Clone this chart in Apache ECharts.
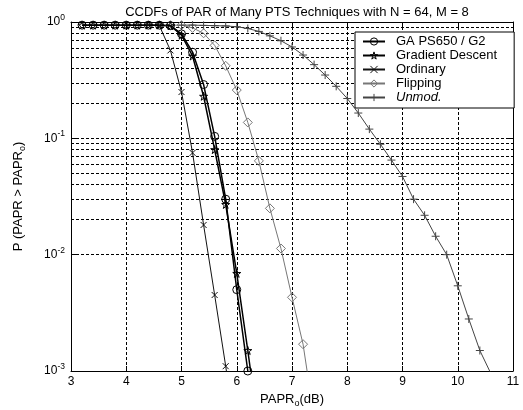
<!DOCTYPE html>
<html><head><meta charset="utf-8">
<script src="https://cdn.jsdelivr.net/npm/echarts@6/dist/echarts.min.js"></script>
<style>html,body{margin:0;padding:0;background:#fff}#c{width:523px;height:410px}</style>
</head><body><div id="c"></div>
<script>
const FONT = '"Liberation Sans", Arial, sans-serif';
const xTicks = [3,4,5,6,7,8,9,10,11];
const yTicks = [0.001, 0.01, 0.1, 1];
const minorGrid = [0.002,0.003,0.004,0.005,0.006,0.007,0.008,0.009,
                   0.02,0.03,0.04,0.05,0.06,0.07,0.08,0.09,
                   0.2,0.3,0.4,0.5,0.6,0.7,0.8,0.9];

const xGA = [3.2,3.4,3.6,3.8,4.0,4.2,4.4,4.6,4.8,5.0,5.2,5.4,5.6,5.8,6.0,6.2];
const yGA = [0.94,0.94,0.94,0.94,0.94,0.94,0.94,0.94,0.93,0.79,0.55,0.29,0.104,0.030,0.005,0.001];

const xGD = [3.2,3.4,3.6,3.8,4.0,4.2,4.4,4.6,4.8,5.0,5.2,5.4,5.6,5.8,6.0,6.2,6.4];
const yGD = [0.94,0.94,0.94,0.94,0.94,0.94,0.94,0.94,0.93,0.77,0.51,0.23,0.08,0.027,0.0069,0.0015,0.0003];

const xOrd = [4.4,4.6,4.8,5.0,5.2,5.4,5.6,5.8,6.0];
const yOrd = [0.94,0.93,0.57,0.25,0.075,0.018,0.0045,0.0011,0.00025];

const xFlip = [4.8,5.0,5.2,5.4,5.6,5.8,6.0,6.2,6.4,6.6,6.8,7.0,7.2,7.4];
const yFlip = [0.94,0.94,0.89,0.80,0.63,0.42,0.26,0.137,0.064,0.025,0.0113,0.0043,0.0017,0.0004];

const xUn = [5.0,5.2,5.4,5.6,5.8,6.0,6.2,6.4,6.6,6.8,7.0,7.2,7.4,7.6,7.8,8.0,8.2,8.4,8.6,8.8,9.0,9.2,9.4,9.6,9.8,10.0,10.2,10.4,10.6];
const yUn = [0.94,0.94,0.935,0.93,0.925,0.91,0.88,0.83,0.76,0.69,0.61,0.52,0.43,0.35,0.28,0.22,0.165,0.12,0.089,0.065,0.047,0.030,0.0218,0.0144,0.0100,0.0054,0.0028,0.0015,0.00095];

const names = ['GA PS650 / G2','Gradient Descent','Ordinary','Flipping','Unmod.'];

const pairs = (xs, ys) => xs.map((x,i)=>[x, ys[i]]);
const STAR = 'path://M50,0L61,35L98,35L68,57L79,91L50,70L21,91L32,57L2,35L39,35Z';
const XMARK = 'path://M0,0L10,10M10,0L0,10';
const PLUS = 'path://M5,0L5,10M0,5L10,5';
const HOLLOW = 'rgba(0,0,0,0)';

function mk(name, data, symbol, size, color, width){
  return {
    name, type:'line', data, symbol, symbolSize:size, showSymbol:true,
    clip:true, animation:false, z:2,
    lineStyle:{color, width},
    itemStyle:{color:HOLLOW, borderColor:color, borderWidth:1},
    emphasis:{disabled:true}
  };
}
const legendColors = ['#000','#000','#111','#777','#444'];

const chart = echarts.init(document.getElementById('c'), null, {renderer:'canvas'});
const supRich = {
  b:{fontSize:12, fontFamily:FONT, color:'#000'},
  s:{fontSize:8.5, fontFamily:FONT, color:'#000', padding:[0,0,9,0]}
};
const subRich = {sub:{fontSize:9, fontFamily:FONT, color:'#000', padding:[8,0,0,0]}};
chart.setOption({
  animation:false,
  backgroundColor:'#fff',
  title:{
    text:'CCDFs of PAR of Many PTS Techniques with N = 64, M = 8',
    left:292, textAlign:'center', top:1,
    textStyle:{fontSize:13, fontWeight:'normal', fontFamily:FONT, color:'#000'}
  },
  legend:{
    z:20,
    data:names.map((n,i)=>({name:n,
      itemStyle:{color:HOLLOW, borderColor:legendColors[i], borderWidth:1},
      textStyle: i===4 ? {fontStyle:'italic'} : {}})),
    orient:'vertical', left:355, top:32,
    backgroundColor:'#fff', borderColor:'#000', borderWidth:1, borderRadius:0,
    padding:[3,17,4,7], itemGap:1, itemWidth:22, itemHeight:9,
    textStyle:{fontSize:13, fontFamily:FONT, color:'#000', padding:[0,0,0,6]},
    selectedMode:false
  },
  grid:{left:71, right:10, top:22, bottom:39, show:false, containLabel:false, outerBoundsMode:'none'},
  xAxis:[{
    type:'value', min:3, max:11, interval:1, position:'bottom',
    axisLine:{show:true, onZero:false, lineStyle:{color:'#000', width:1}},
    axisTick:{show:true, inside:true, length:5, lineStyle:{color:'#000'}},
    axisLabel:{fontSize:12, fontFamily:FONT, color:'#000', margin:5},
    splitLine:{show:true, lineStyle:{color:'#000', width:1, type:[3,2]}},
    name:'PAPR{sub|o}(dB)', nameLocation:'middle', nameGap:19,
    nameTextStyle:{fontSize:13, fontFamily:FONT, color:'#000', rich:subRich}
  },{
    type:'value', min:3, max:11, interval:1, position:'top',
    axisLine:{show:true, onZero:false, lineStyle:{color:'#000', width:1}},
    axisTick:{show:true, inside:true, length:5, lineStyle:{color:'#000'}},
    axisLabel:{show:false}, splitLine:{show:false}
  }],
  yAxis:[{
    type:'log', logBase:10, min:0.001, max:1, position:'left',
    axisLine:{show:true, onZero:false, lineStyle:{color:'#000', width:1}},
    axisTick:{show:true, inside:true, length:5, lineStyle:{color:'#000'}},
    axisLabel:{margin:6, color:'#000', rich:supRich,
      formatter:v=>'{b|10}{s|'+Math.round(Math.log10(v))+'}'},
    splitLine:{show:true, lineStyle:{color:'#000', width:1, type:[3,2]}},
    name:'P (PAPR > PAPR{sub|o})', nameLocation:'middle', nameGap:44, nameRotate:90,
    nameTextStyle:{fontSize:13, fontFamily:FONT, color:'#000', rich:subRich}
  },{
    type:'log', logBase:10, min:0.001, max:1, position:'right',
    axisLine:{show:true, onZero:false, lineStyle:{color:'#000', width:1}},
    axisTick:{show:true, inside:true, length:5, lineStyle:{color:'#000'}},
    axisLabel:{show:false}, splitLine:{show:false}
  }],
  series:[
    {name:'_grid', type:'line', data:[], silent:true, z:1,
     markLine:{silent:true, symbol:['none','none'], label:{show:false}, z:1,
       lineStyle:{color:'#000', width:1, type:[3,2]},
       emphasis:{disabled:true},
       data:minorGrid.map(v=>({yAxis:v}))}},
    mk(names[4], pairs(xUn,yUn), PLUS, 8, '#444', 1),
    mk(names[3], pairs(xFlip,yFlip), 'diamond', 9, '#777', 1),
    mk(names[2], pairs(xOrd,yOrd), XMARK, 6, '#111', 1),
    mk(names[1], pairs(xGD,yGD), STAR, 8, '#000', 1.5),
    mk(names[0], pairs(xGA,yGA), 'circle', 8, '#000', 1.5)
  ]
});
</script></body></html>
